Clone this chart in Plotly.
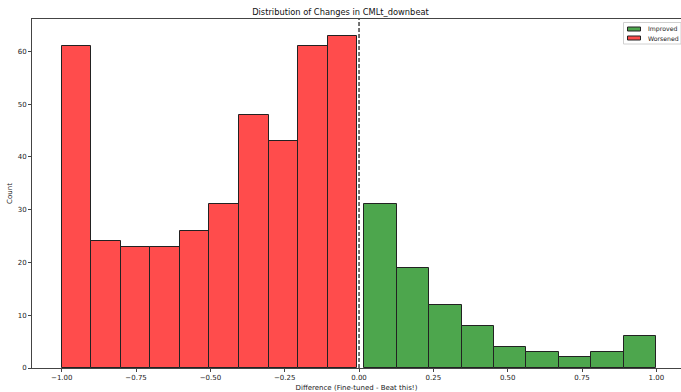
import numpy as np
import plotly.graph_objects as go

# Histogram counts of per-track score differences
worsened_counts = [61, 24, 23, 23, 26, 31, 48, 43, 61, 63]
improved_counts = [31, 19, 12, 8, 4, 3, 2, 3, 6]

# Data range covered by each group's bins (min, max of the differences)
worsened_range = (-1.0, -0.006)
improved_range = (0.017, 1.0)

x_ticks = [-1.0, -0.75, -0.5, -0.25, 0.0, 0.25, 0.5, 0.75, 1.0]
y_ticks = [0, 10, 20, 30, 40, 50, 60]

GREEN = "#4da64d"
RED = "#ff4c4c"
EDGE = "#222222"


def bins(rng, counts):
    edges = np.linspace(rng[0], rng[1], len(counts) + 1)
    centers = (edges[:-1] + edges[1:]) / 2
    widths = np.diff(edges)
    return centers, widths


W, H = 681, 392
ML, MR, MT, MB = 32, 0, 19, 24


def px(x):
    return (x - ML) / (W - ML - MR)


def py(y):
    return (H - MB - y) / (H - MT - MB)


font = "DejaVu Sans, Liberation Sans, sans-serif"
fig = go.Figure()

gx, gw = bins(improved_range, improved_counts)
fig.add_trace(go.Bar(
    x=gx, y=improved_counts, width=gw, name="Improved",
    marker=dict(color=GREEN, line=dict(color=EDGE, width=1)),
))
rx, rw = bins(worsened_range, worsened_counts)
fig.add_trace(go.Bar(
    x=rx, y=worsened_counts, width=rw, name="Worsened",
    marker=dict(color=RED, line=dict(color=EDGE, width=1)),
))

# Zero-difference reference line
fig.add_shape(type="line", xref="x", yref="paper", x0=0, x1=0, y0=0, y1=1,
              line=dict(color="#444444", width=1.5, dash="4px,2px"))

# Compact legend box in the upper-right corner
fig.add_shape(type="rect", xref="paper", yref="paper",
              x0=px(623.5), x1=px(681), y0=py(44), y1=py(22.5),
              line=dict(color="#d0d0d0", width=1), fillcolor="white")
for (name, color, yc) in [("Improved", GREEN, 29), ("Worsened", RED, 38)]:
    fig.add_shape(type="rect", xref="paper", yref="paper",
                  x0=px(627.5), x1=px(640.5), y0=py(yc + 2), y1=py(yc - 2),
                  line=dict(color=EDGE, width=1), fillcolor=color)
    fig.add_annotation(text=name, xref="paper", yref="paper",
                       x=px(645.5), y=py(yc), xanchor="left", yanchor="middle",
                       showarrow=False, font=dict(size=6.2, color="#222222"))

fig.update_layout(
    width=W, height=H,
    margin=dict(l=ML, r=MR, t=MT, b=MB),
    paper_bgcolor="white", plot_bgcolor="white",
    bargap=0,
    font=dict(family=font, size=7, color="#222222"),
    title=dict(text="Distribution of Changes in CMLt_downbeat",
               x=0.5, xanchor="center", y=1 - 12 / H, yanchor="middle",
               font=dict(size=8.3, color="#111111")),
    showlegend=False,
    xaxis=dict(range=[-1.1, 1.083], tickvals=x_ticks,
               ticktext=[f"{v:.2f}".replace("-", "\u2212") for v in x_ticks],
               showgrid=False, zeroline=False,
               showline=True, linecolor="#444444", linewidth=1, mirror=True,
               ticks="outside", ticklen=3, tickcolor="#444444",
               title=dict(text="Difference (Fine-tuned - Beat this!)",
                          standoff=4, font=dict(size=7))),
    yaxis=dict(range=[0, 66.15], tickvals=y_ticks,
               showgrid=False, zeroline=False,
               showline=True, linecolor="#444444", linewidth=1,
               ticks="outside", ticklen=3, tickcolor="#444444",
               title=dict(text="Count", standoff=4, font=dict(size=7))),
)

fig.write_html("out.html")
